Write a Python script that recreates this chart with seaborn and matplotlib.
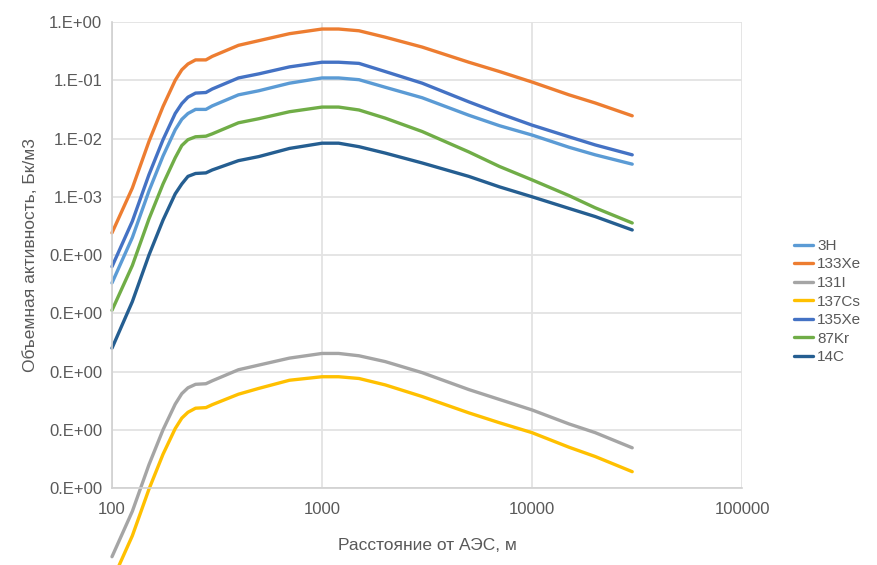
import matplotlib
matplotlib.use("Agg")
import matplotlib.pyplot as plt
import seaborn as sns
import numpy as np
import pandas as pd
from matplotlib.ticker import FixedLocator, FixedFormatter, LogLocator, NullFormatter

# distance from NPP, m
dist = [100, 125, 150, 175, 200, 215, 230, 250, 280, 300, 400, 500, 700, 1000,
        1200, 1500, 2000, 3000, 5000, 7000, 10000, 15000, 20000, 30000]

# log10 of volume activity, Bq/m3
lg_3H    = [-4.48, -3.70, -2.90, -2.30, -1.85, -1.67, -1.57, -1.50, -1.50, -1.44, -1.25, -1.18, -1.05, -0.96,
            -0.96, -0.99, -1.12, -1.30, -1.60, -1.78, -1.94, -2.15, -2.28, -2.44]
lg_133Xe = [-3.62, -2.85, -2.05, -1.45, -1.00, -0.82, -0.72, -0.65, -0.65, -0.59, -0.40, -0.32, -0.20, -0.12,
            -0.12, -0.15, -0.26, -0.43, -0.69, -0.85, -1.03, -1.25, -1.39, -1.61]
lg_131I  = [-9.18, -8.40, -7.60, -7.00, -6.56, -6.38, -6.28, -6.22, -6.21, -6.16, -5.97, -5.89, -5.77, -5.69,
            -5.69, -5.73, -5.83, -6.02, -6.31, -6.48, -6.66, -6.90, -7.05, -7.31]
lg_137Cs = [-9.60, -8.82, -8.02, -7.42, -6.98, -6.80, -6.70, -6.63, -6.62, -6.57, -6.39, -6.29, -6.15, -6.09,
            -6.09, -6.12, -6.23, -6.43, -6.71, -6.88, -7.05, -7.30, -7.46, -7.72]
lg_135Xe = [-4.20, -3.42, -2.62, -2.02, -1.57, -1.40, -1.29, -1.22, -1.21, -1.15, -0.96, -0.89, -0.77, -0.69,
            -0.69, -0.71, -0.85, -1.05, -1.37, -1.57, -1.77, -1.97, -2.11, -2.28]
lg_87Kr  = [-4.95, -4.18, -3.38, -2.78, -2.33, -2.12, -2.02, -1.97, -1.96, -1.92, -1.73, -1.66, -1.54, -1.46,
            -1.46, -1.51, -1.65, -1.88, -2.23, -2.48, -2.71, -2.98, -3.19, -3.45]
lg_14C   = [-5.60, -4.80, -4.00, -3.40, -2.95, -2.78, -2.65, -2.60, -2.59, -2.54, -2.38, -2.31, -2.17, -2.08,
            -2.08, -2.14, -2.25, -2.42, -2.65, -2.83, -3.00, -3.20, -3.34, -3.57]

names = ['3H', '133Xe', '131I', '137Cs', '135Xe', '87Kr', '14C']
series = [lg_3H, lg_133Xe, lg_131I, lg_137Cs, lg_135Xe, lg_87Kr, lg_14C]
colors = ['#5B9BD5', '#ED7D31', '#A5A5A5', '#FFC000', '#4472C4', '#70AD47', '#255E91']

y_ticks = [1, 1e-1, 1e-2, 1e-3, 1e-4, 1e-5, 1e-6, 1e-7, 1e-8]
y_labels = ['1.E+00', '1.E-01', '1.E-02', '1.E-03', '0.E+00', '0.E+00', '0.E+00', '0.E+00', '0.E+00']
x_ticks = [100, 1000, 10000, 100000]

rows = []
for n, s in zip(names, series):
    for d, v in zip(dist, s):
        rows.append({'dist': d, 'val': 10 ** v, 'nuclide': n})
df = pd.DataFrame(rows)

sns.set_style("white")
plt.rcParams['font.family'] = ['Liberation Sans', 'DejaVu Sans']
txt = '#595959'
grid = '#E3E3E3'

fig = plt.figure(figsize=(8.77, 5.65), dpi=100)
ax = fig.add_axes([0.1277, 0.1363, 0.7184, 0.8247])

sns.lineplot(data=df, x='dist', y='val', hue='nuclide', hue_order=names,
             palette=colors, linewidth=2.4, ax=ax, clip_on=False)

ax.set_xscale('log')
ax.set_yscale('log')
ax.set_xlim(100, 100000)
ax.set_ylim(1e-8, 1)

ax.yaxis.set_major_locator(FixedLocator(y_ticks))
ax.yaxis.set_major_formatter(FixedFormatter(y_labels))
ax.yaxis.set_minor_locator(LogLocator(base=10, subs=np.arange(2, 10)))
ax.yaxis.set_minor_formatter(NullFormatter())
ax.xaxis.set_major_locator(FixedLocator(x_ticks))
ax.set_xticklabels([str(v) for v in x_ticks])
ax.xaxis.set_minor_locator(LogLocator(base=10, subs=np.arange(2, 10)))
ax.xaxis.set_minor_formatter(NullFormatter())

ax.grid(True, which='major', color=grid, linewidth=1.3)
ax.set_axisbelow(True)
for side in ['top', 'right']:
    ax.spines[side].set_visible(False)
for side in ['left', 'bottom']:
    ax.spines[side].set_color('#D0D0D0')
    ax.spines[side].set_linewidth(1.2)

ax.tick_params(axis='both', which='major', direction='in', length=6, color='#D0D0D0',
               labelsize=12, labelcolor=txt)
ax.tick_params(axis='x', which='major', pad=10)
ax.tick_params(axis='y', which='major', pad=7)
ax.tick_params(axis='both', which='minor', direction='in', length=3, color='#D0D0D0')

ax.set_xlabel('Расстояние от АЭС, м', fontsize=12.5, color=txt, labelpad=15)
ax.set_ylabel('Объемная активность, Бк/м3', fontsize=12.5, color=txt, labelpad=8)

leg = ax.legend(loc='center left', bbox_to_anchor=(1.06, 0.40), frameon=False,
                fontsize=11, handlelength=1.3, handletextpad=0.25, labelspacing=0.3)
for t in leg.get_texts():
    t.set_color(txt)
for h in leg.get_lines():
    h.set_linewidth(2.4)

fig.savefig('out.png', dpi=100)
